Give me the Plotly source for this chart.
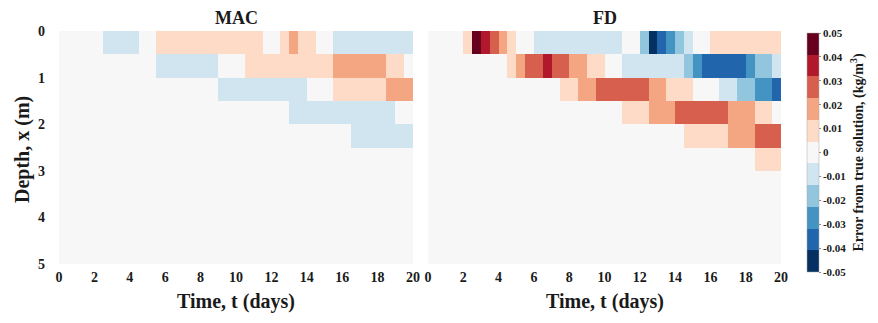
import plotly.graph_objects as go

# ---------------- data ----------------
# cell centres: time in days (0.5-day cells), depth in m (0.5-m cells)
time_days = [0.25, 0.75, 1.25, 1.75, 2.25, 2.75, 3.25, 3.75, 4.25, 4.75,
             5.25, 5.75, 6.25, 6.75, 7.25, 7.75, 8.25, 8.75, 9.25, 9.75,
             10.25, 10.75, 11.25, 11.75, 12.25, 12.75, 13.25, 13.75, 14.25, 14.75,
             15.25, 15.75, 16.25, 16.75, 17.25, 17.75, 18.25, 18.75, 19.25, 19.75]
depth_m = [0.25, 0.75, 1.25, 1.75, 2.25, 2.75, 3.25, 3.75, 4.25, 4.75]

# MAC error, one list per depth cell (kg/m^3)
mac_d025 = [0, 0, 0, 0, 0, -.01, -.01, -.01, -.01, 0,
            0, .01, .01, .01, .01, .01, .01, .01, .01, .01,
            .01, .01, .01, 0, 0, .01, .02, .01, .01, 0,
            0, -.01, -.01, -.01, -.01, -.01, -.01, -.01, -.01, -.01]
mac_d075 = [0, 0, 0, 0, 0, 0, 0, 0, 0, 0,
            0, -.01, -.01, -.01, -.01, -.01, -.01, -.01, 0, 0,
            0, .01, .01, .01, .01, .01, .01, .01, .01, .01,
            .01, .02, .02, .02, .02, .02, .02, .01, .01, 0]
mac_d125 = [0, 0, 0, 0, 0, 0, 0, 0, 0, 0,
            0, 0, 0, 0, 0, 0, 0, 0, -.01, -.01,
            -.01, -.01, -.01, -.01, -.01, -.01, -.01, -.01, 0, 0,
            0, .01, .01, .01, .01, .01, .01, .02, .02, .02]
mac_d175 = [0, 0, 0, 0, 0, 0, 0, 0, 0, 0,
            0, 0, 0, 0, 0, 0, 0, 0, 0, 0,
            0, 0, 0, 0, 0, 0, -.01, -.01, -.01, -.01,
            -.01, -.01, -.01, -.01, -.01, -.01, -.01, -.01, 0, 0]
mac_d225 = [0, 0, 0, 0, 0, 0, 0, 0, 0, 0,
            0, 0, 0, 0, 0, 0, 0, 0, 0, 0,
            0, 0, 0, 0, 0, 0, 0, 0, 0, 0,
            0, 0, 0, -.01, -.01, -.01, -.01, -.01, -.01, -.01]
mac_d275 = [0, 0, 0, 0, 0, 0, 0, 0, 0, 0, 0, 0, 0, 0, 0, 0, 0, 0, 0, 0,
            0, 0, 0, 0, 0, 0, 0, 0, 0, 0, 0, 0, 0, 0, 0, 0, 0, 0, 0, 0]
mac_d325 = [0, 0, 0, 0, 0, 0, 0, 0, 0, 0, 0, 0, 0, 0, 0, 0, 0, 0, 0, 0,
            0, 0, 0, 0, 0, 0, 0, 0, 0, 0, 0, 0, 0, 0, 0, 0, 0, 0, 0, 0]
mac_d375 = [0, 0, 0, 0, 0, 0, 0, 0, 0, 0, 0, 0, 0, 0, 0, 0, 0, 0, 0, 0,
            0, 0, 0, 0, 0, 0, 0, 0, 0, 0, 0, 0, 0, 0, 0, 0, 0, 0, 0, 0]
mac_d425 = [0, 0, 0, 0, 0, 0, 0, 0, 0, 0, 0, 0, 0, 0, 0, 0, 0, 0, 0, 0,
            0, 0, 0, 0, 0, 0, 0, 0, 0, 0, 0, 0, 0, 0, 0, 0, 0, 0, 0, 0]
mac_d475 = [0, 0, 0, 0, 0, 0, 0, 0, 0, 0, 0, 0, 0, 0, 0, 0, 0, 0, 0, 0,
            0, 0, 0, 0, 0, 0, 0, 0, 0, 0, 0, 0, 0, 0, 0, 0, 0, 0, 0, 0]

# FD error, one list per depth cell (kg/m^3)
fd_d025 = [0, 0, 0, 0, .01, .05, .04, .03, .02, .01,
           0, 0, -.01, -.01, -.01, -.01, -.01, -.01, -.01, -.01,
           -.01, -.01, 0, 0, -.02, -.05, -.04, -.03, -.02, -.01,
           0, 0, .01, .01, .01, .01, .01, .01, .01, .01]
fd_d075 = [0, 0, 0, 0, 0, 0, 0, 0, 0, .01,
           .02, .03, .03, .04, .03, .03, .02, .02, .01, .01,
           0, 0, -.01, -.01, -.01, -.01, -.01, -.01, -.01, -.02,
           -.03, -.04, -.04, -.04, -.04, -.04, -.03, -.02, -.02, -.01]
fd_d125 = [0, 0, 0, 0, 0, 0, 0, 0, 0, 0,
           0, 0, 0, 0, 0, .01, .01, .02, .02, .03,
           .03, .03, .03, .03, .03, .02, .02, .01, .01, .01,
           0, 0, 0, -.01, -.01, -.02, -.02, -.03, -.03, -.04]
fd_d175 = [0, 0, 0, 0, 0, 0, 0, 0, 0, 0,
           0, 0, 0, 0, 0, 0, 0, 0, 0, 0,
           0, 0, .01, .01, .01, .02, .02, .02, .03, .03,
           .03, .03, .03, .03, .02, .02, .02, .01, .01, 0]
fd_d225 = [0, 0, 0, 0, 0, 0, 0, 0, 0, 0,
           0, 0, 0, 0, 0, 0, 0, 0, 0, 0,
           0, 0, 0, 0, 0, 0, 0, 0, 0, .01,
           .01, .01, .01, .01, .02, .02, .02, .03, .03, .03]
fd_d275 = [0, 0, 0, 0, 0, 0, 0, 0, 0, 0,
           0, 0, 0, 0, 0, 0, 0, 0, 0, 0,
           0, 0, 0, 0, 0, 0, 0, 0, 0, 0,
           0, 0, 0, 0, 0, 0, 0, .01, .01, .01]
fd_d325 = [0, 0, 0, 0, 0, 0, 0, 0, 0, 0, 0, 0, 0, 0, 0, 0, 0, 0, 0, 0,
           0, 0, 0, 0, 0, 0, 0, 0, 0, 0, 0, 0, 0, 0, 0, 0, 0, 0, 0, 0]
fd_d375 = [0, 0, 0, 0, 0, 0, 0, 0, 0, 0, 0, 0, 0, 0, 0, 0, 0, 0, 0, 0,
           0, 0, 0, 0, 0, 0, 0, 0, 0, 0, 0, 0, 0, 0, 0, 0, 0, 0, 0, 0]
fd_d425 = [0, 0, 0, 0, 0, 0, 0, 0, 0, 0, 0, 0, 0, 0, 0, 0, 0, 0, 0, 0,
           0, 0, 0, 0, 0, 0, 0, 0, 0, 0, 0, 0, 0, 0, 0, 0, 0, 0, 0, 0]
fd_d475 = [0, 0, 0, 0, 0, 0, 0, 0, 0, 0, 0, 0, 0, 0, 0, 0, 0, 0, 0, 0,
           0, 0, 0, 0, 0, 0, 0, 0, 0, 0, 0, 0, 0, 0, 0, 0, 0, 0, 0, 0]

mac_error = [mac_d025, mac_d075, mac_d125, mac_d175, mac_d225,
             mac_d275, mac_d325, mac_d375, mac_d425, mac_d475]
fd_error = [fd_d025, fd_d075, fd_d125, fd_d175, fd_d225,
            fd_d275, fd_d325, fd_d375, fd_d425, fd_d475]

x_ticks = [0, 2, 4, 6, 8, 10, 12, 14, 16, 18, 20]
y_ticks = [0, 1, 2, 3, 4, 5]
cbar_ticks = [-0.05, -0.04, -0.03, -0.02, -0.01, 0, 0.01, 0.02, 0.03, 0.04, 0.05]
cbar_labels = ["-0.05", "-0.04", "-0.03", "-0.02", "-0.01", "0",
               "0.01", "0.02", "0.03", "0.04", "0.05"]

panel_titles = ["MAC", "FD"]
x_title = "Time, t (days)"
y_title = "Depth, x (m)"
cbar_title = "Error from true solution, (kg/m<sup>3</sup>)"

# ---------------- style ----------------
band_colors = ["#053061", "#2166ac", "#4393c3", "#92c5de", "#d1e5f0", "#f7f7f7",
               "#fddbc7", "#f4a582", "#d6604d", "#b2182b", "#67001f"]
n = len(band_colors)
colorscale = []
for k, c in enumerate(band_colors):
    colorscale.append([k / n, c])
    colorscale.append([(k + 1) / n, c])

W, H = 878, 323
def px(x):
    return x / W
def py(y):
    return 1 - y / H

FONT = "Liberation Serif"
TXT = "#1a1a1a"
tickfont = dict(family=FONT, size=14, color=TXT, weight="bold")

fig = go.Figure()
fig.add_trace(go.Heatmap(x=time_days, y=depth_m, z=mac_error, coloraxis="coloraxis",
                         xaxis="x", yaxis="y", zsmooth=False))
fig.add_trace(go.Heatmap(x=time_days, y=depth_m, z=fd_error, coloraxis="coloraxis",
                         xaxis="x2", yaxis="y2", zsmooth=False))

plot_top, plot_bot = 31, 264
common_x = dict(range=[0, 20], tickvals=x_ticks, showgrid=False, zeroline=False,
                ticks="", tickfont=tickfont, ticklabelstandoff=3, showline=False,
                automargin=False, fixedrange=True)
common_y = dict(range=[5, 0], tickvals=y_ticks, showgrid=False, zeroline=False,
                ticks="", tickfont=tickfont, showline=False, automargin=False,
                domain=[py(plot_bot), py(plot_top)], fixedrange=True)

fig.update_layout(
    width=W, height=H,
    margin=dict(l=0, r=0, t=0, b=0),
    paper_bgcolor="white", plot_bgcolor="white",
    showlegend=False,
    xaxis=dict(domain=[px(59), px(413)], anchor="y", **common_x),
    xaxis2=dict(domain=[px(428), px(781)], anchor="y2", **common_x),
    yaxis=dict(anchor="x", ticklabelstandoff=13, **common_y),
    yaxis2=dict(anchor="x2", showticklabels=False, **common_y),
    coloraxis=dict(
        cmin=-0.05, cmax=0.05, colorscale=colorscale,
        colorbar=dict(
            x=px(807), xanchor="left", xpad=0,
            y=py(33), yanchor="top", ypad=0,
            len=(272 - 33) / H, lenmode="fraction",
            thickness=12, outlinewidth=0.5, outlinecolor="#aaaaaa",
            tickvals=cbar_ticks, ticktext=cbar_labels,
            ticks="outside", ticklen=2, tickcolor="#888888",
            tickfont=dict(family=FONT, size=11, color=TXT, weight="bold"),
            title=dict(text=cbar_title, side="right",
                       font=dict(family=FONT, size=14, color=TXT, weight="bold")),
        ),
    ),
)

annots = []
for cx, t in zip([(59 + 413) / 2, (428 + 781) / 2], panel_titles):
    annots.append(dict(x=px(cx), y=py(18), xref="paper", yref="paper", text=t,
                       showarrow=False, xanchor="center", yanchor="middle",
                       font=dict(family=FONT, size=18, color=TXT, weight="bold")))
    annots.append(dict(x=px(cx), y=py(301), xref="paper", yref="paper", text=x_title,
                       showarrow=False, xanchor="center", yanchor="middle",
                       font=dict(family=FONT, size=20, color=TXT, weight="bold")))
annots.append(dict(x=px(22), y=py(150), xref="paper", yref="paper", text=y_title,
                   showarrow=False, xanchor="center", yanchor="middle", textangle=-90,
                   font=dict(family=FONT, size=20, color=TXT, weight="bold")))
fig.update_layout(annotations=annots)

fig.write_html("out.html")
